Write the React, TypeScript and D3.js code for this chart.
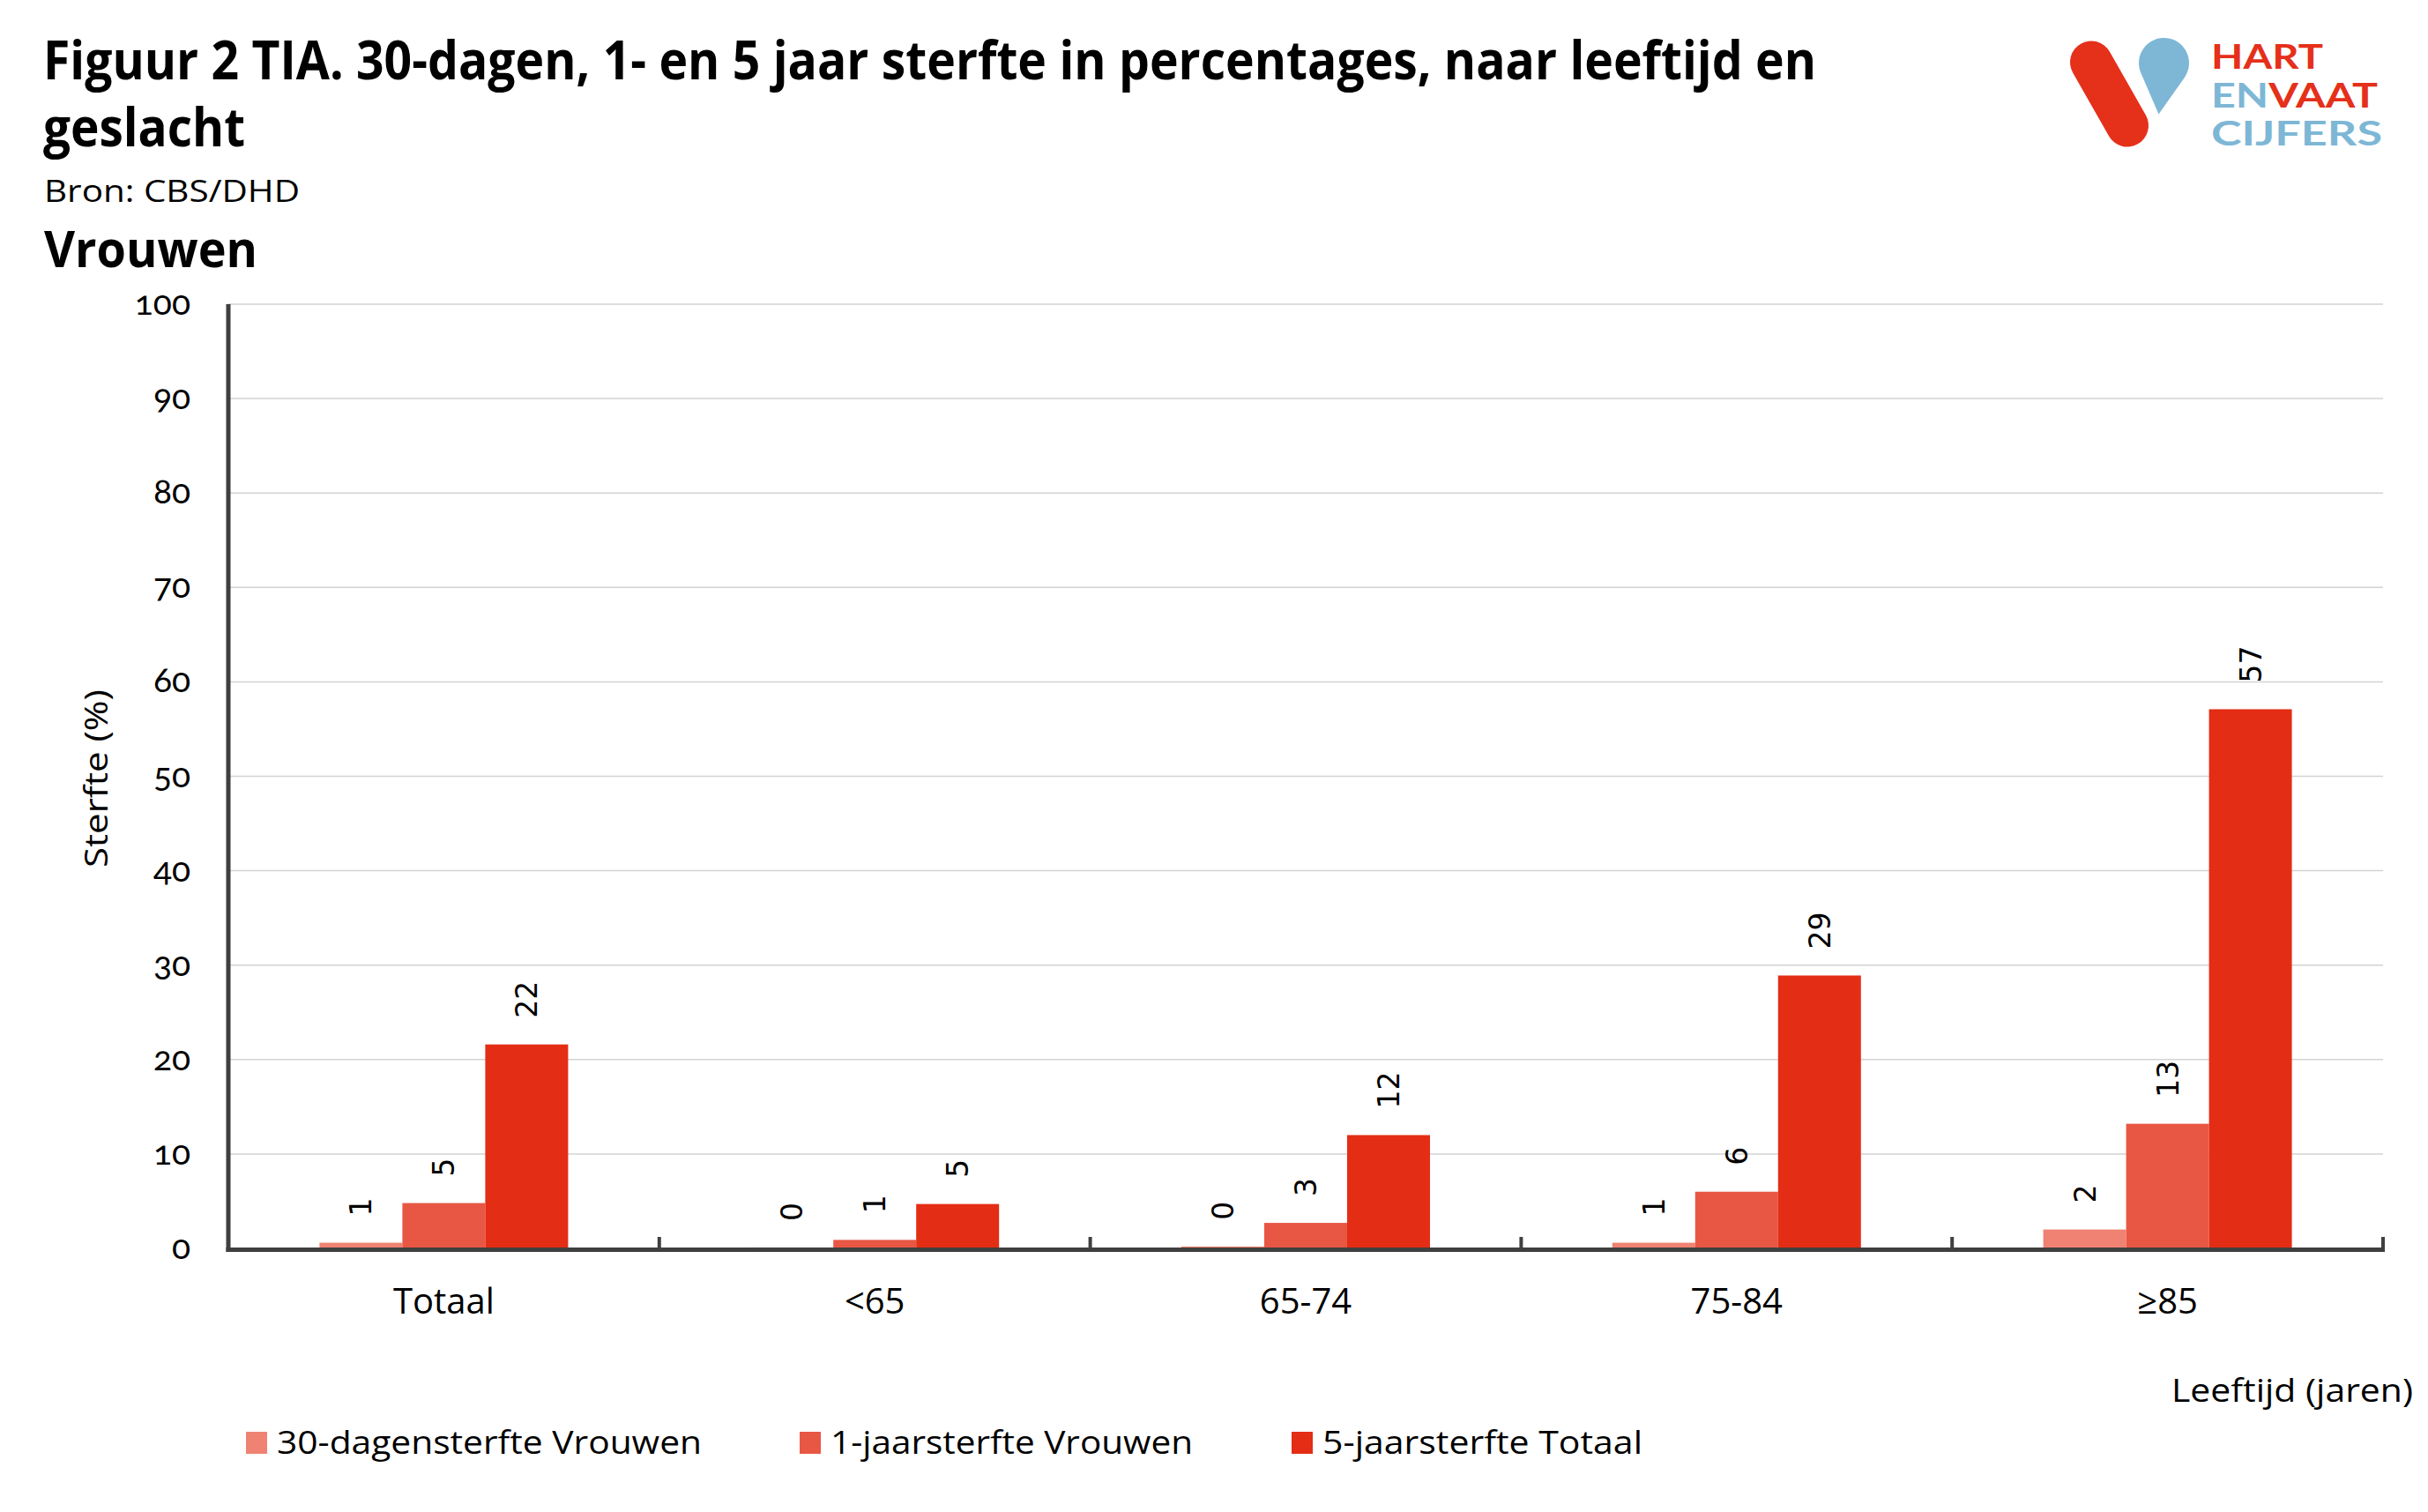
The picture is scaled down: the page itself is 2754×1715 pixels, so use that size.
import React from "react";
import * as d3 from "d3";

const categories = ["Totaal", "<65", "65-74", "75-84", "≥85"];
const seriesNames = ["30-dagensterfte Vrouwen", "1-jaarsterfte Vrouwen", "5-jaarsterfte Totaal"];
const dag30 = [0.6, 0.1, 0.2, 0.6, 2.0];
const jaar1 = [4.8, 0.9, 2.7, 6.0, 13.2];
const jaar5 = [21.6, 4.7, 12.0, 28.9, 57.1];
const seriesColors = ["#EF8272", "#E85744", "#E42D15"];
const yTicks = [0, 10, 20, 30, 40, 50, 60, 70, 80, 90, 100];

const W = 2754;
const H = 1715;
const FONT = "'Open Sans', 'Noto Sans', sans-serif";

export default function App() {
  const left = 259;
  const right = 2703;
  const y = d3.scaleLinear().domain([0, 100]).range([1416, 345]);
  const x0 = d3.scaleBand<string>().domain(categories).range([left, right]).paddingInner(0).paddingOuter(0);
  const x1 = d3.scaleBand<string>().domain(seriesNames).range([0, x0.bandwidth()]).paddingInner(0).paddingOuter(1.1);
  const allSeries = [dag30, jaar1, jaar5];

  const legendX = [279, 907, 1465];
  const legendLen = [482, 411, 363];

  return (
    <svg width={W} height={H} style={{ position: "absolute", left: 0, top: 0, background: "#fff" }} fontFamily={FONT}>
      <rect x={0} y={0} width={W} height={H} fill="#fff" />
      {/* titles */}
      <text x={49} y={90} fontSize={60} fontWeight={700} textLength={2011} lengthAdjust="spacingAndGlyphs" fill="#000">
        Figuur 2 TIA. 30-dagen, 1- en 5 jaar sterfte in percentages, naar leeftijd en
      </text>
      <text x={49} y={166} fontSize={60} fontWeight={700} textLength={229} lengthAdjust="spacingAndGlyphs" fill="#000">
        geslacht
      </text>
      <text x={50} y={229} fontSize={34} textLength={290} lengthAdjust="spacingAndGlyphs" fill="#000">
        Bron: CBS/DHD
      </text>
      <text x={50} y={303} fontSize={57} fontWeight={700} textLength={242} lengthAdjust="spacingAndGlyphs" fill="#000">
        Vrouwen
      </text>

      {/* logo */}
      <g>
        <line x1={2372} y1={70.5} x2={2413} y2={142.5} stroke="#E5301A" strokeWidth={48} strokeLinecap="round" />
        {(() => {
          const cx = 2454.5, cy = 71.5, r = 28.5, tx = 2448.5, ty = 129.5;
          const dx = tx - cx, dy = ty - cy;
          const d = Math.sqrt(dx * dx + dy * dy);
          const a = Math.atan2(dy, dx);
          const b = Math.acos(r / d);
          const p1 = [cx + r * Math.cos(a + b), cy + r * Math.sin(a + b)];
          const p2 = [cx + r * Math.cos(a - b), cy + r * Math.sin(a - b)];
          const path = `M${tx},${ty} L${p1[0]},${p1[1]} A${r},${r} 0 1 1 ${p2[0]},${p2[1]} Z`;
          return <path d={path} fill="#7EB7D6" />;
        })()}
        <text x={2508} y={78} fontSize={39} fontWeight={700} fill="#E5301A" textLength={127} lengthAdjust="spacingAndGlyphs" fontFamily="Lato, 'Open Sans', sans-serif">HART</text>
        <text x={2508} y={122} fontSize={39} fontWeight={700} fill="#7EB7D6" textLength={189} lengthAdjust="spacingAndGlyphs" fontFamily="Lato, 'Open Sans', sans-serif">
          EN<tspan fill="#E5301A">VAAT</tspan>
        </text>
        <text x={2508} y={165} fontSize={39} fontWeight={700} fill="#7EB7D6" textLength={194} lengthAdjust="spacingAndGlyphs" fontFamily="Lato, 'Open Sans', sans-serif">CIJFERS</text>
      </g>

      {/* gridlines */}
      {yTicks.filter((t) => t > 0).map((t) => (
        <line key={"g" + t} x1={left} x2={right} y1={y(t)} y2={y(t)} stroke="#D3D3D3" strokeWidth={1.5} />
      ))}

      {/* y tick labels */}
      {yTicks.map((t) => (
        <text key={"t" + t} x={216} y={y(t) + 12} fontSize={39} textAnchor="end" fill="#000" fontFamily="Lato, 'Open Sans', sans-serif" style={{ fontVariantNumeric: "oldstyle-nums", fontFeatureSettings: '"onum" 1' }}>
          {t}
        </text>
      ))}

      {/* y axis title */}
      <text transform={`translate(122,883) rotate(-90)`} fontSize={37} textAnchor="middle" textLength={202} lengthAdjust="spacingAndGlyphs" fill="#000">
        Sterfte (%)
      </text>

      {/* bars */}
      {categories.map((c, ci) => (
        <g key={c} transform={`translate(${x0(c)},0)`}>
          {seriesNames.map((s, si) => {
            const v = allSeries[si][ci];
            const bx = x1(s)!;
            return (
              <rect key={s} x={bx} y={y(v)} width={x1.bandwidth()} height={y(0) - y(v)} fill={seriesColors[si]} />
            );
          })}
          {seriesNames.map((s, si) => {
            const v = allSeries[si][ci];
            const cx = x1(s)! + x1.bandwidth() / 2;
            return (
              <text key={"l" + s} transform={`translate(${cx + 12},${y(v) - 30}) rotate(-90)`} fontSize={33} fontFamily="'DejaVu Sans', sans-serif" fill="#000">
                {Math.round(v)}
              </text>
            );
          })}
        </g>
      ))}

      {/* axes */}
      <line x1={left} x2={left} y1={345} y2={1420} stroke="#3F3F3F" strokeWidth={5} />
      <line x1={left - 2.5} x2={right + 2} y1={1417.5} y2={1417.5} stroke="#3F3F3F" strokeWidth={5} />
      {[...categories.map((c) => x0(c)!), right].map((xv, i) => (
        <line key={"tk" + i} x1={xv} x2={xv} y1={1403} y2={1418} stroke="#3F3F3F" strokeWidth={4} />
      ))}

      {/* category labels */}
      {categories.map((c) => (
        <text key={"c" + c} x={x0(c)! + x0.bandwidth() / 2} y={1490} fontSize={40} textAnchor="middle" fill="#000">
          {c}
        </text>
      ))}

      <text x={2463} y={1590} fontSize={37} textLength={274} lengthAdjust="spacingAndGlyphs" fill="#000">
        Leeftijd (jaren)
      </text>

      {/* legend */}
      {seriesNames.map((s, i) => (
        <g key={"lg" + s}>
          <rect x={legendX[i]} y={1624} width={24} height={25} fill={seriesColors[i]} />
          <text x={legendX[i] + 35} y={1649} fontSize={37} textLength={legendLen[i]} lengthAdjust="spacingAndGlyphs" fill="#000">
            {s}
          </text>
        </g>
      ))}
    </svg>
  );
}
